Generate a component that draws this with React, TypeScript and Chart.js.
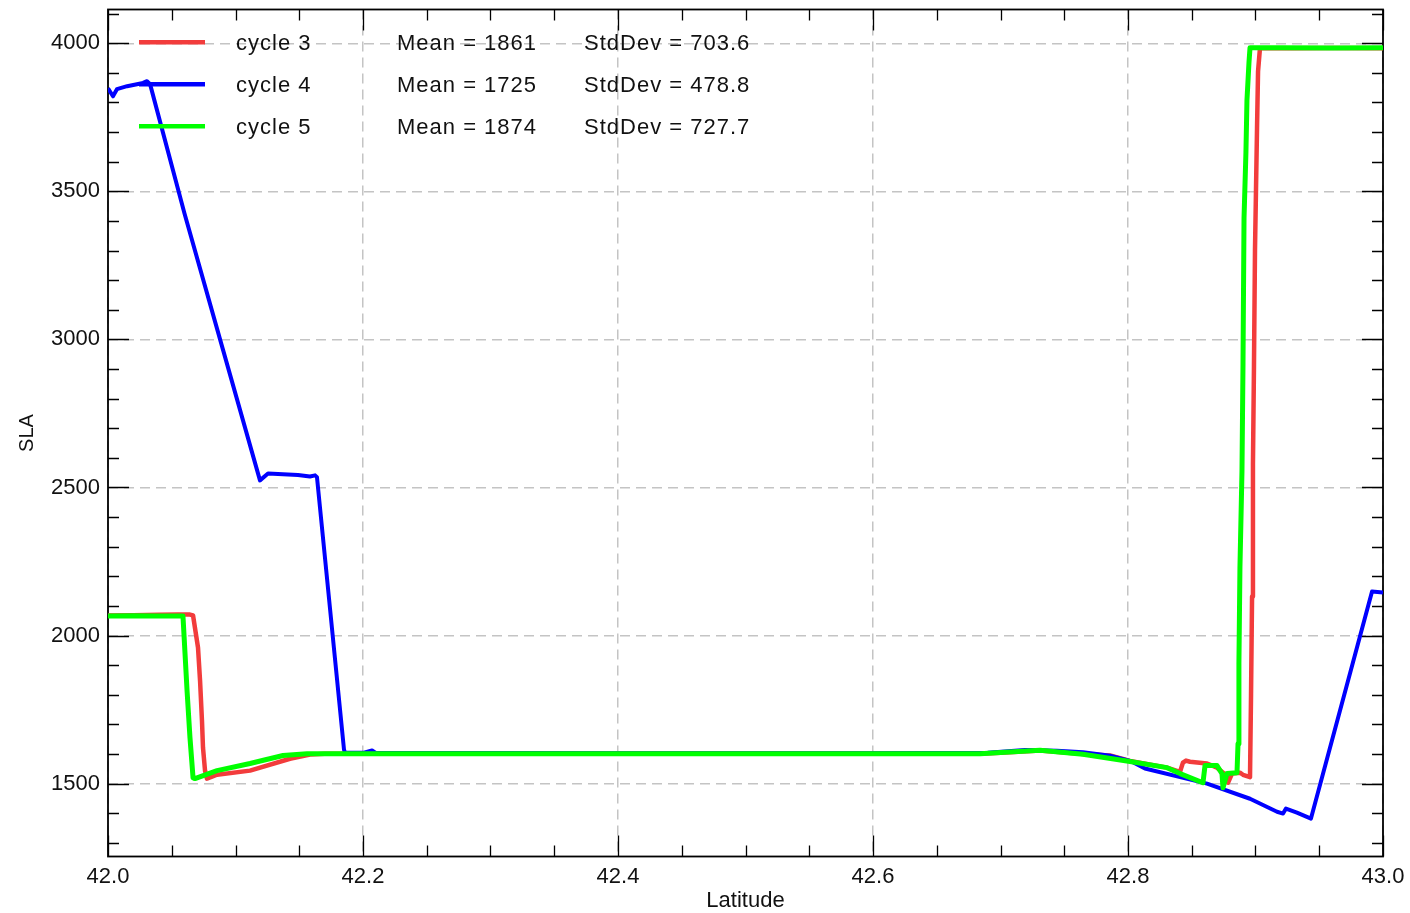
import { useEffect, useRef } from 'react';
import { Chart, registerables } from 'chart.js';

Chart.register(...registerables);

// ---- data (latitude, SLA) ----
const cycle3Lat = [42.000, 42.020, 42.040, 42.055, 42.0643, 42.0667, 42.0706, 42.0722, 42.0737, 42.0745, 42.0761, 42.0776, 42.0855, 42.1114, 42.1427, 42.1584, 42.170, 42.300, 42.500, 42.684, 42.700, 42.731, 42.7647, 42.7859, 42.8016, 42.8306, 42.8408, 42.8431, 42.8455, 42.8486, 42.8620, 42.8698, 42.8776, 42.8784, 42.8816, 42.8878, 42.8902, 42.8957, 42.8965, 42.8973, 42.8980, 42.8988, 42.8996, 42.9004, 42.9012, 42.9020, 42.9035, 42.930, 42.960, 43.000];
const cycle3Sla = [2068, 2069, 2070, 2071, 2071, 2068, 1959, 1848, 1713, 1622, 1544, 1517, 1530, 1544, 1584, 1598, 1601, 1601, 1601, 1601, 1604, 1612, 1600, 1595, 1577, 1554, 1540, 1571, 1578, 1574, 1568, 1554, 1527, 1503, 1534, 1537, 1530, 1522, 1800, 2132, 2578, 2909, 3301, 3507, 3713, 3905, 3983, 3983, 3984, 3983];

const cycle4Lat = [42.000, 42.0039, 42.0070, 42.0150, 42.0275, 42.0306, 42.0330, 42.060, 42.090, 42.1192, 42.1255, 42.1490, 42.1584, 42.1624, 42.1639, 42.1851, 42.1859, 42.200, 42.2071, 42.2100, 42.400, 42.600, 42.690, 42.7192, 42.7443, 42.7647, 42.7859, 42.8016, 42.8133, 42.8620, 42.8957, 42.9169, 42.9216, 42.9239, 42.9325, 42.9435, 42.9914, 43.000];
const cycle4Sla = [3848, 3821, 3845, 3855, 3866, 3872, 3862, 3425, 2968, 2524, 2547, 2542, 2537, 2541, 2535, 1615, 1605, 1604, 1612, 1604, 1603, 1603, 1604, 1614, 1611, 1606, 1594, 1577, 1551, 1500, 1449, 1405, 1399, 1416, 1402, 1382, 2149, 2145];

const cycle5Lat = [42.000, 42.020, 42.040, 42.0588, 42.0620, 42.0643, 42.0667, 42.0682, 42.0855, 42.1114, 42.1373, 42.1561, 42.300, 42.500, 42.684, 42.700, 42.731, 42.7647, 42.8016, 42.8306, 42.8408, 42.8588, 42.8604, 42.8698, 42.8737, 42.8745, 42.8776, 42.8855, 42.8863, 42.8870, 42.8878, 42.8894, 42.8902, 42.8910, 42.8925, 42.8933, 42.8949, 42.8957, 42.920, 42.960, 43.000];
const cycle5Sla = [2066, 2067, 2066, 2066, 1814, 1655, 1520, 1517, 1544, 1568, 1595, 1601, 1601, 1601, 1601, 1605, 1613, 1599, 1575, 1554, 1534, 1503, 1561, 1561, 1534, 1486, 1534, 1537, 1635, 1905, 2230, 2557, 2919, 3409, 3632, 3807, 3936, 3985, 3985, 3984, 3985];

const seriesNames = ['cycle 3', 'cycle 4', 'cycle 5'];
const seriesColors = ['#f23c3c', '#0000ff', '#00ff00'];
const seriesMeans = ['1861', '1725', '1874'];
const seriesStdDevs = ['703.6', '478.8', '727.7'];

const xMin = 42.0;
const xMax = 43.0;
const xMinorStep = 0.05;
const xMajorStep = 0.2;
const yMin = 1254;
const yMax = 4114;
const yMinorStep = 100;
const yMajorStep = 500;

const FONT = "'Liberation Sans', Arial, sans-serif";

const isMultiple = (v: number, step: number) => Math.abs(v / step - Math.round(v / step)) < 1e-6;

const frameAndLegend = {
  id: 'frameAndLegend',
  beforeDatasetsDraw(chart: any) {
    const { ctx, chartArea: a, scales } = chart;
    const xs = scales.x;
    const ys = scales.y;
    ctx.save();
    ctx.strokeStyle = '#000';
    ctx.lineWidth = 1.3;
    ctx.beginPath();
    xs.ticks.forEach((t: any) => {
      const px = Math.round(xs.getPixelForValue(t.value)) + 0.5;
      const len = isMultiple(t.value, xMajorStep) ? 21 : 11;
      ctx.moveTo(px, a.bottom);
      ctx.lineTo(px, a.bottom - len);
      ctx.moveTo(px, a.top);
      ctx.lineTo(px, a.top + len);
    });
    ys.ticks.forEach((t: any) => {
      const py = Math.round(ys.getPixelForValue(t.value)) + 0.5;
      const len = isMultiple(t.value, yMajorStep) ? 21 : 11;
      ctx.moveTo(a.left, py);
      ctx.lineTo(a.left + len, py);
      ctx.moveTo(a.right, py);
      ctx.lineTo(a.right - len, py);
    });
    ctx.stroke();
    ctx.lineWidth = 1.8;
    ctx.strokeRect(a.left, a.top, a.right - a.left, a.bottom - a.top);
    ctx.restore();
  },
  afterDatasetsDraw(chart: any) {
    const { ctx, chartArea: a } = chart;
    ctx.save();
    ctx.font = `22px ${FONT}`;
    (ctx as any).letterSpacing = '1px';
    ctx.fillStyle = '#111';
    ctx.textAlign = 'left';
    ctx.textBaseline = 'alphabetic';
    seriesNames.forEach((name, i) => {
      const rowY = a.top + 32.7 + i * 42;
      ctx.strokeStyle = seriesColors[i];
      ctx.lineWidth = 4.5;
      ctx.beginPath();
      ctx.moveTo(a.left + 31, rowY);
      ctx.lineTo(a.left + 97, rowY);
      ctx.stroke();
      ctx.fillText(name, a.left + 128, rowY + 7.5);
      ctx.fillText(`Mean = ${seriesMeans[i]}`, a.left + 289, rowY + 7.5);
      ctx.fillText(`StdDev = ${seriesStdDevs[i]}`, a.left + 476, rowY + 7.5);
    });
    ctx.restore();
  },
};

function toPoints(lat: number[], sla: number[]) {
  return lat.map((x, i) => ({ x, y: sla[i] }));
}

export default function App() {
  const ref = useRef<HTMLCanvasElement | null>(null);

  useEffect(() => {
    if (!ref.current) return;
    const lineBase = {
      pointRadius: 0,
      borderJoinStyle: 'round' as const,
      tension: 0,
      fill: false,
    };
    const chart = new Chart(ref.current, {
      type: 'line',
      data: {
        datasets: [
          { ...lineBase, label: seriesNames[0], data: toPoints(cycle3Lat, cycle3Sla), borderColor: seriesColors[0], borderWidth: 4.5, order: 3 },
          { ...lineBase, label: seriesNames[1], data: toPoints(cycle4Lat, cycle4Sla), borderColor: seriesColors[1], borderWidth: 4, order: 2 },
          { ...lineBase, label: seriesNames[2], data: toPoints(cycle5Lat, cycle5Sla), borderColor: seriesColors[2], borderWidth: 5, order: 1 },
        ],
      },
      options: {
        responsive: false,
        animation: false,
        layout: { padding: { left: 0, right: 27, top: 9.5, bottom: 0 } },
        plugins: { legend: { display: false }, tooltip: { enabled: false } },
        scales: {
          x: {
            type: 'linear',
            min: xMin,
            max: xMax,
            afterBuildTicks: (s: any) => {
              const t = [];
              for (let i = 0; i <= Math.round((xMax - xMin) / xMinorStep); i++) {
                t.push({ value: Math.round((xMin + i * xMinorStep) * 1000) / 1000 });
              }
              s.ticks = t;
            },
            afterFit: (s: any) => {
              s.height = 56.5;
              s.paddingLeft = 0;
              s.paddingRight = 0;
            },
            ticks: {
              autoSkip: false,
              maxRotation: 0,
              padding: 7,
              color: '#111',
              font: { family: FONT, size: 22 },
              callback: (v: any) => (isMultiple(Number(v), xMajorStep) ? Number(v).toFixed(1) : ''),
            },
            grid: {
              drawTicks: false,
              lineWidth: 1.5,
              color: (c: any) => (c.tick && isMultiple(c.tick.value, xMajorStep) ? '#c4c4c4' : 'rgba(0,0,0,0)'),
            },
            border: { display: false, dash: [10, 6] },
            title: { display: true, text: 'Latitude', color: '#111', font: { family: FONT, size: 22, lineHeight: 1 }, padding: { top: 0, bottom: 1 } },
          },
          y: {
            type: 'linear',
            min: yMin,
            max: yMax,
            afterBuildTicks: (s: any) => {
              const t = [];
              for (let v = Math.ceil(yMin / yMinorStep) * yMinorStep; v <= yMax; v += yMinorStep) t.push({ value: v });
              s.ticks = t;
            },
            afterFit: (s: any) => {
              s.width = 108;
              s.paddingTop = 0;
              s.paddingBottom = 0;
            },
            ticks: {
              autoSkip: false,
              padding: 8,
              color: '#111',
              font: { family: FONT, size: 22 },
              callback: (v: any) => (isMultiple(Number(v), yMajorStep) ? String(v) : ''),
            },
            grid: {
              drawTicks: false,
              lineWidth: 1.5,
              color: (c: any) => (c.tick && isMultiple(c.tick.value, yMajorStep) ? '#c4c4c4' : 'rgba(0,0,0,0)'),
            },
            border: { display: false, dash: [10, 6] },
            title: { display: true, text: 'SLA', color: '#111', font: { family: FONT, size: 20 }, padding: { top: 15, bottom: 0 } },
          },
        },
      },
      plugins: [frameAndLegend],
    });
    return () => chart.destroy();
  }, []);

  return (
    <div style={{ position: 'absolute', left: 0, top: 0, width: 1410, height: 913, background: '#fff' }}>
      <canvas ref={ref} width={1410} height={913} style={{ display: 'block' }} />
    </div>
  );
}
